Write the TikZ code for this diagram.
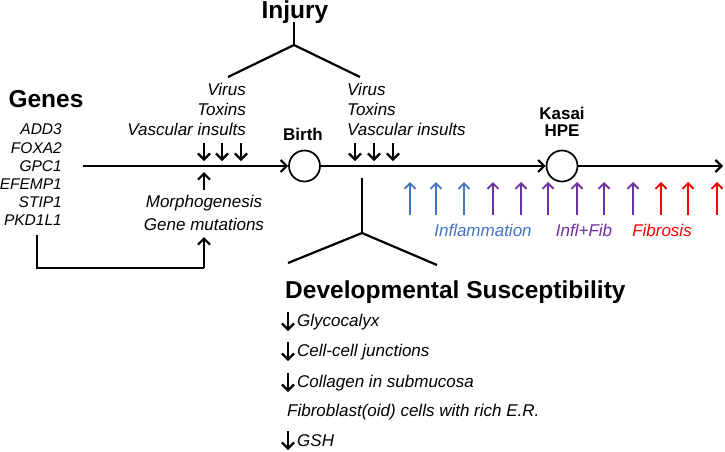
\documentclass[tikz,border=0pt]{standalone}
\usepackage{fontspec}
\setmainfont{Liberation Sans}
\usetikzlibrary{arrows.meta}
\definecolor{infblue}{HTML}{4472C4}
\definecolor{infpurple}{HTML}{7030A0}
\definecolor{infred}{HTML}{FF0000}
\begin{document}
\begin{tikzpicture}[x=1pt,y=-1pt,
  ln/.style={line width=2.2pt},
  arr/.style={line width=2.2pt,-{Straight Barb[length=6pt,width=12pt,line width=2.2pt]}},
  carr/.style={line width=1.9pt,-{Straight Barb[length=5.5pt,width=11pt,line width=1.9pt]}},
  lbl/.style={font=\fontsize{17}{20}\selectfont\itshape, inner sep=0pt},
  gene/.style={font=\fontsize{15.5}{18}\selectfont\itshape, inner sep=0pt, anchor=east},
  ttl/.style={font=\fontsize{24.5}{28}\selectfont\bfseries, inner sep=0pt},
  sttl/.style={font=\fontsize{17}{20}\selectfont\bfseries, inner sep=0pt},
  evt/.style={circle, draw, line width=1.7pt, minimum size=31pt, inner sep=0pt}]
\useasboundingbox (0,0) rectangle (725,451);

% Injury
\node[ttl] (injury) at (295,12) {Injury};
\coordinate (ij0) at (294,22);
\coordinate (ij1) at (294,45);
\coordinate (ijl) at (228,77);
\coordinate (ijr) at (360,77);
\draw[ln] (ij0) -- (ij1);
\draw[ln] (ijl) -- (ij1) -- (ijr);

% Genes
\node[ttl] (genes) at (46,99) {Genes};
\node[gene] (g1) at (62,129) {ADD3};
\node[gene] (g2) at (62,148) {FOXA2};
\node[gene] (g3) at (62,166) {GPC1};
\node[gene] (g4) at (62,184) {EFEMP1};
\node[gene] (g5) at (62,202) {STIP1};
\node[gene] (g6) at (62,220) {PKD1L1};

% Left injury list
\node[lbl, anchor=east] (v1) at (246,89) {Virus};
\node[lbl, anchor=east] (t1) at (246,109) {Toxins};
\node[lbl, anchor=east] (s1) at (246,129) {Vascular insults};
\foreach \x [count=\i] in {204,222,241}{
  \coordinate (la\i) at (\x,143);
  \coordinate (lb\i) at (\x,161);
  \draw[arr] (la\i) -- (lb\i);
}

% Right injury list
\node[lbl, anchor=west] (v2) at (347,89) {Virus};
\node[lbl, anchor=west] (t2) at (347,109) {Toxins};
\node[lbl, anchor=west] (s2) at (347,129) {Vascular insults};
\foreach \x [count=\i] in {355,374,393}{
  \coordinate (ra\i) at (\x,143);
  \coordinate (rb\i) at (\x,161);
  \draw[arr] (ra\i) -- (rb\i);
}

% Timeline
\coordinate (t0) at (83,166);
\node[evt] (birth) at (304.5,166) {};
\node[evt] (kasai) at (562,166) {};
\coordinate (tend) at (723,166);
\draw[arr] (t0) -- (birth.west);
\draw[arr] (birth.east) -- (kasai.west);
\draw[arr] (kasai.east) -- (tend);
\node[sttl] (birthlbl) at (303,134) {Birth};
\node[sttl] (kasailbl) at (562,113) {Kasai};
\node[sttl] (hpelbl) at (562,131) {HPE};

% Morphogenesis
\coordinate (m0) at (204,190);
\coordinate (m1) at (204,172);
\draw[arr] (m0) -- (m1);
\node[lbl] (morph) at (204,203) {Morphogenesis};
\node[lbl] (gmut) at (204,224) {Gene mutations};
\coordinate (p0) at (37,235);
\coordinate (p1) at (37,268);
\coordinate (p2) at (204,268);
\coordinate (p3) at (204,237);
\draw[ln] (p0) -- (p1) -- (p2);
\draw[arr] (p2) -- (p3);

% Coloured arrows
\foreach \x/\c [count=\i] in {410/infblue,436/infblue,464/infblue,493/infpurple,521/infpurple,548/infpurple,577/infpurple,604/infpurple,633/infpurple,661/infred,688/infred,717/infred}{
  \coordinate (ca\i) at (\x,215);
  \coordinate (cb\i) at (\x,182);
  \draw[carr, draw=\c] (ca\i) -- (cb\i);
}
\node[lbl, text=infblue] (infl) at (483,230) {Inflammation};
\node[lbl, text=infpurple] (inflfib) at (584,230) {Infl+Fib};
\node[lbl, text=infred] (fib) at (662,230) {Fibrosis};

% Developmental bracket
\coordinate (d0) at (362,178);
\coordinate (d1) at (362,233);
\coordinate (dl) at (288,263);
\coordinate (dr) at (437,265);
\draw[ln] (d0) -- (d1);
\draw[ln] (dl) -- (d1) -- (dr);
\node[ttl, anchor=west] (dev) at (285,292) {Developmental Susceptibility};

% List
\node[lbl, anchor=west] (i1) at (297,322) {Glycocalyx};
\node[lbl, anchor=west] (i2) at (297,352) {Cell-cell junctions};
\node[lbl, anchor=west] (i3) at (297,383) {Collagen in submucosa};
\node[lbl, anchor=west] (i4) at (287,412) {Fibroblast(oid) cells with rich E.R.};
\node[lbl, anchor=west] (i5) at (297,441) {GSH};
\foreach \y [count=\i] in {322,352,383,441}{
  \coordinate (da\i) at (288,\y-10);
  \coordinate (db\i) at (288,\y+9);
  \draw[arr] (da\i) -- (db\i);
}
\end{tikzpicture}
\end{document}
